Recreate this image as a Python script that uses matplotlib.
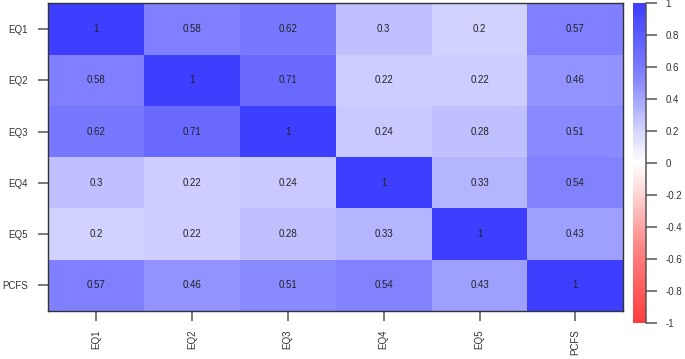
import numpy as np
import matplotlib
matplotlib.use("Agg")
import matplotlib.pyplot as plt
from matplotlib import font_manager
from matplotlib.colors import LinearSegmentedColormap, BoundaryNorm

# pick the regular (non-narrow) Liberation Sans file explicitly
fam = "DejaVu Sans"
for f in font_manager.fontManager.ttflist:
    if "LiberationSans-Regular" in f.fname:
        font_manager.fontManager.addfont(f.fname)
        fam = f.name
        break
plt.rcParams["font.family"] = [fam, "DejaVu Sans"]

# ---------- data ----------
labels = ["EQ1", "EQ2", "EQ3", "EQ4", "EQ5", "PCFS"]
corr = np.array([
    [1.00, 0.58, 0.62, 0.30, 0.20, 0.57],
    [0.58, 1.00, 0.71, 0.22, 0.22, 0.46],
    [0.62, 0.71, 1.00, 0.24, 0.28, 0.51],
    [0.30, 0.22, 0.24, 1.00, 0.33, 0.54],
    [0.20, 0.22, 0.28, 0.33, 1.00, 0.43],
    [0.57, 0.46, 0.51, 0.54, 0.43, 1.00],
])
cbar_ticks = [1, 0.8, 0.6, 0.4, 0.2, 0, -0.2, -0.4, -0.6, -0.8, -1]

# ---------- colormap (red - white - blue) ----------
stops = [0.0, 0.2, 0.33, 0.43, 0.54, 0.71, 1.0]
light = [255, 212, 182, 158, 132, 105, 62]
anchors = []
for s, l in zip(stops[::-1], light[::-1]):
    anchors.append(((1 - s) / 2, (1.0, l / 255, l / 255)))
for s, l in zip(stops[1:], light[1:]):
    anchors.append(((1 + s) / 2, (l / 255, l / 255, 1.0)))
cmap = LinearSegmentedColormap.from_list("rwb", anchors, N=256)
bounds = np.linspace(-1, 1, 101)
norm = BoundaryNorm(bounds, cmap.N)

fig = plt.figure(figsize=(6.85, 3.59), dpi=100)
ax = fig.add_axes([0.0701, 0.1337, 0.8399, 0.8571])
cax = fig.add_axes([0.9245, 0.1003, 0.0181, 0.8905])

n = len(labels)
ax.pcolormesh(np.arange(n + 1), np.arange(n + 1), corr, cmap=cmap, norm=norm)
ax.set_xlim(0, n)
ax.set_ylim(n, 0)
for i in range(n):
    for j in range(n):
        v = corr[i, j]
        txt = "1" if v == 1 else f"{v:g}"
        ax.text(j + 0.5, i + 0.5, txt, ha="center", va="center",
                fontsize=7, color="#222222")

ax.set_xticks(np.arange(n) + 0.5)
ax.set_yticks(np.arange(n) + 0.5)
ax.set_xticklabels(labels, rotation=90, fontsize=7, color="#333333")
ax.set_yticklabels(labels, fontsize=7, color="#333333")
ax.tick_params(axis="y", length=7.5, width=1.1, pad=7, color="#555555")
ax.tick_params(axis="x", length=7, width=1.1, pad=6, color="#555555")
for sp in ax.spines.values():
    sp.set_color("#333333")
    sp.set_linewidth(1.0)

# ---------- colorbar ----------
cvals = (bounds[:-1] + bounds[1:]) / 2
cax.pcolormesh([0, 1], bounds, cvals.reshape(-1, 1), cmap=cmap, norm=norm)
cax.set_xlim(0, 1)
cax.set_ylim(-1, 1)
cax.set_xticks([])
cax.yaxis.tick_right()
cax.set_yticks(cbar_ticks)
cax.set_yticklabels([f"{t:g}" for t in cbar_ticks], fontsize=7, color="#333333")
cax.tick_params(axis="y", length=8, width=1.1, pad=6, color="#555555")
for k in ["top", "bottom", "left"]:
    cax.spines[k].set_visible(False)
cax.spines["right"].set_color("#555555")
cax.spines["right"].set_linewidth(1.1)

fig.savefig("out.png", dpi=100)
